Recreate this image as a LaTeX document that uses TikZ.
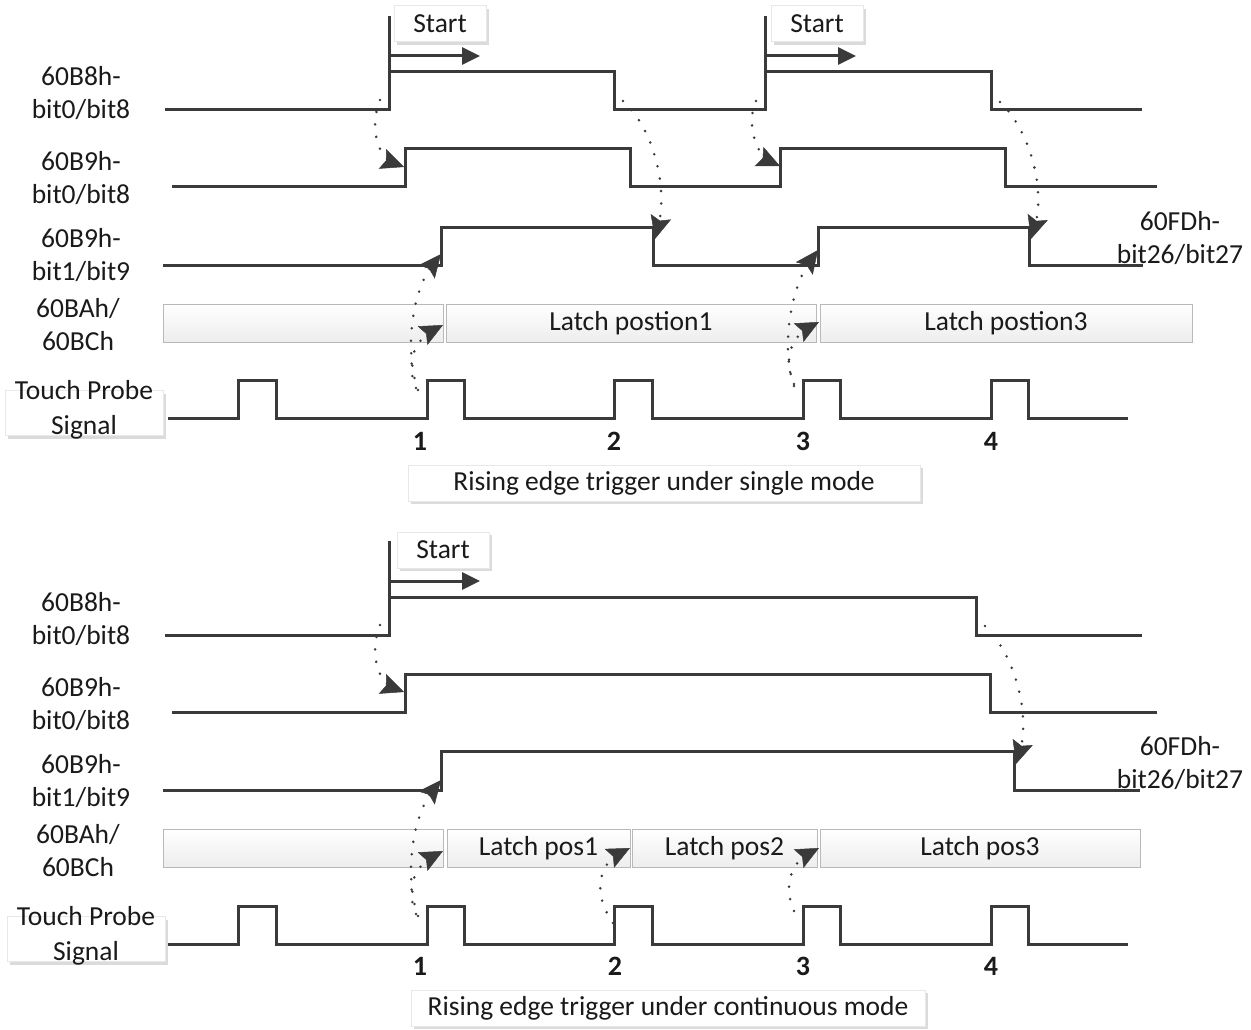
\documentclass[tikz,border=0pt]{standalone}
\usepackage{fontspec}
\setmainfont{Carlito}
\usetikzlibrary{arrows.meta,shadows,calc}
\definecolor{sigc}{HTML}{3A3A3A}
\definecolor{txtc}{HTML}{1A1A1A}
\newcommand\dotarrow[4]{%
  \draw[dotline] (#1) .. controls (#2) and (#3) .. (#4);
  \draw[tipline] ($(#4)!1.5pt!(#3)$) -- (#4);}
\begin{document}
\begin{tikzpicture}[x=1pt,y=-1pt,
  every node/.style={font=\fontsize{27.5}{33}\selectfont, text=txtc, inner sep=0pt},
  sig/.style={draw=sigc, line width=3pt, line join=miter},
  startarrow/.style={draw=sigc, line width=3pt, -{Triangle[length=18pt,width=17pt]}},
  dotline/.style={draw=sigc, line width=2.8pt, line cap=round, dash pattern=on 0pt off 12.5pt, shorten >=12pt},
  tipline/.style={draw=sigc, line width=0.5pt, -{Stealth[length=23pt,width=21pt,inset=4pt]}},
  shadowbox/.style={draw=gray!18, fill=white, line width=1pt,
     drop shadow={shadow xshift=3pt, shadow yshift=-3pt, fill=gray!28, opacity=1}},
  latchbox/.style={draw=gray!55, line width=1pt, top color=white, bottom color=gray!14,
     minimum height=38pt},
  lbl/.style={align=center},
  num/.style={font=\fontsize{28}{30}\selectfont\bfseries}
]
\useasboundingbox (0,0) rectangle (1251,1030);

% ================= TOP: single mode =================
\node[lbl] (t1) at (81,93) {60B8h-\\bit0/bit8};
\node[lbl] (t2) at (81,178) {60B9h-\\bit0/bit8};
\node[lbl] (t3) at (81,255) {60B9h-\\bit1/bit9};
\node[lbl] (t4) at (78,325) {60BAh/\\60BCh};
\node[shadowbox, minimum width=158pt, minimum height=45pt] (tpbox1) at (84,413) {};
\node[lbl, font=\fontsize{27.5}{35}\selectfont] (t5) at (84,410) {Touch Probe\\Signal};
\node[lbl] (t6) at (1180,238) {60FDh-\\bit26/bit27};

\node[shadowbox, minimum width=92pt, minimum height=36pt] (st1) at (440,24) {Start};
\node[shadowbox, minimum width=92pt, minimum height=36pt] (st2) at (817,24) {Start};

\draw[sig] (389,16) -- (389,72);
\draw[sig] (765,16) -- (765,72);
\draw[sig] (165,110) -| (389,72) -| (614,110) -| (765,72) -| (991,110) -- (1142,110);
\draw[startarrow] (389,56) -- (480,56);
\draw[startarrow] (765,56) -- (856,56);
\draw[sig] (172,187) -| (405,149) -| (630,187) -| (780,149) -| (1005,187) -- (1157,187);
\draw[sig] (163,265) -| (441,227) -| (653,265) -| (818,227) -| (1029,265) -- (1143,265);
\draw[sig] (168,418) -| (238,380) -| (276,418) -| (427,380) -| (464,418) -| (614,380) -| (652,418)
   -| (803,380) -| (840,418) -| (991,380) -| (1028,418) -- (1128,418);

\node[latchbox, minimum width=280pt] (l1a) at (303,323) {};
\node[latchbox, minimum width=370pt] (l1b) at (631,323) {Latch postion1};
\node[latchbox, minimum width=372pt] (l1c) at (1006,323) {Latch postion3};

\node[num] (n1a) at (420,441) {1};
\node[num] (n1b) at (614,441) {2};
\node[num] (n1c) at (803,441) {3};
\node[num] (n1d) at (991,441) {4};

\node[shadowbox, minimum width=512pt, minimum height=36pt] (cap1) at (664,483) {Rising edge trigger under single mode};

\coordinate (a1s) at (380,100);  \coordinate (a1e) at (404,167);
\coordinate (a2s) at (623,101);  \coordinate (a2e) at (655,239);
\coordinate (a3s) at (756,101);  \coordinate (a3e) at (780,166);
\coordinate (a4s) at (1000,102); \coordinate (a4e) at (1031,239);
\coordinate (a5s) at (418,390);  \coordinate (a5e) at (441,254);
\coordinate (a6s) at (416,388);  \coordinate (a6e) at (443,325);
\coordinate (a7s) at (794,386);  \coordinate (a7e) at (818,250);
\coordinate (a8s) at (794,384);  \coordinate (a8e) at (819,322);
\dotarrow{a1s}{368,130}{380,158}{a1e}
\dotarrow{a2s}{655,130}{668,190}{a2e}
\dotarrow{a3s}{745,125}{758,156}{a3e}
\dotarrow{a4s}{1030,130}{1046,190}{a4e}
\dotarrow{a5s}{404,350}{412,290}{a5e}
\dotarrow{a6s}{404,360}{418,338}{a6e}
\dotarrow{a7s}{780,345}{792,285}{a7e}
\dotarrow{a8s}{781,355}{796,334}{a8e}

% ================= BOTTOM: continuous mode =================
\node[lbl] (b1) at (81,619) {60B8h-\\bit0/bit8};
\node[lbl] (b2) at (81,704) {60B9h-\\bit0/bit8};
\node[lbl] (b3) at (81,781) {60B9h-\\bit1/bit9};
\node[lbl] (b4) at (78,851) {60BAh/\\60BCh};
\node[shadowbox, minimum width=158pt, minimum height=45pt] (tpbox2) at (86,939) {};
\node[lbl, font=\fontsize{27.5}{35}\selectfont] (b5) at (86,936) {Touch Probe\\Signal};
\node[lbl] (b6) at (1180,763) {60FDh-\\bit26/bit27};

\node[shadowbox, minimum width=92pt, minimum height=36pt] (st3) at (443,550) {Start};

\draw[sig] (389,541) -- (389,597);
\draw[sig] (165,635) -| (389,597) -| (976,635) -- (1142,635);
\draw[startarrow] (389,581) -- (480,581);
\draw[sig] (172,712) -| (405,674) -| (990,712) -- (1157,712);
\draw[sig] (163,790) -| (441,751) -| (1014,790) -- (1140,790);
\draw[sig] (168,944) -| (238,906) -| (276,944) -| (427,906) -| (464,944) -| (614,906) -| (652,944)
   -| (803,906) -| (840,944) -| (991,906) -| (1028,944) -- (1128,944);

\node[latchbox, minimum width=280pt] (l2a) at (303,848) {};
\node[latchbox, minimum width=183pt] (l2b) at (538.5,848) {Latch pos1};
\node[latchbox, minimum width=185pt] (l2c) at (724.5,848) {Latch pos2};
\node[latchbox, minimum width=320pt] (l2d) at (980,848) {Latch pos3};

\node[num] (n2a) at (420,966) {1};
\node[num] (n2b) at (615,966) {2};
\node[num] (n2c) at (803,966) {3};
\node[num] (n2d) at (991,966) {4};

\node[shadowbox, minimum width=514pt, minimum height=36pt] (cap2) at (668,1008) {Rising edge trigger under continuous mode};

\coordinate (b1s) at (380,625);  \coordinate (b1e) at (404,692);
\coordinate (b2s) at (985,626);  \coordinate (b2e) at (1016,764);
\coordinate (b3s) at (418,916);  \coordinate (b3e) at (441,780);
\coordinate (b4s) at (416,914);  \coordinate (b4e) at (443,851);
\coordinate (b5s) at (613,923);  \coordinate (b5e) at (630,848);
\coordinate (b6s) at (794,911);  \coordinate (b6e) at (819,848);
\dotarrow{b1s}{368,655}{380,683}{b1e}
\dotarrow{b2s}{1015,655}{1031,715}{b2e}
\dotarrow{b3s}{404,876}{412,816}{b3e}
\dotarrow{b4s}{404,886}{418,864}{b4e}
\dotarrow{b5s}{590,890}{602,862}{b5e}
\dotarrow{b6s}{781,881}{796,860}{b6e}
\end{tikzpicture}
\end{document}
